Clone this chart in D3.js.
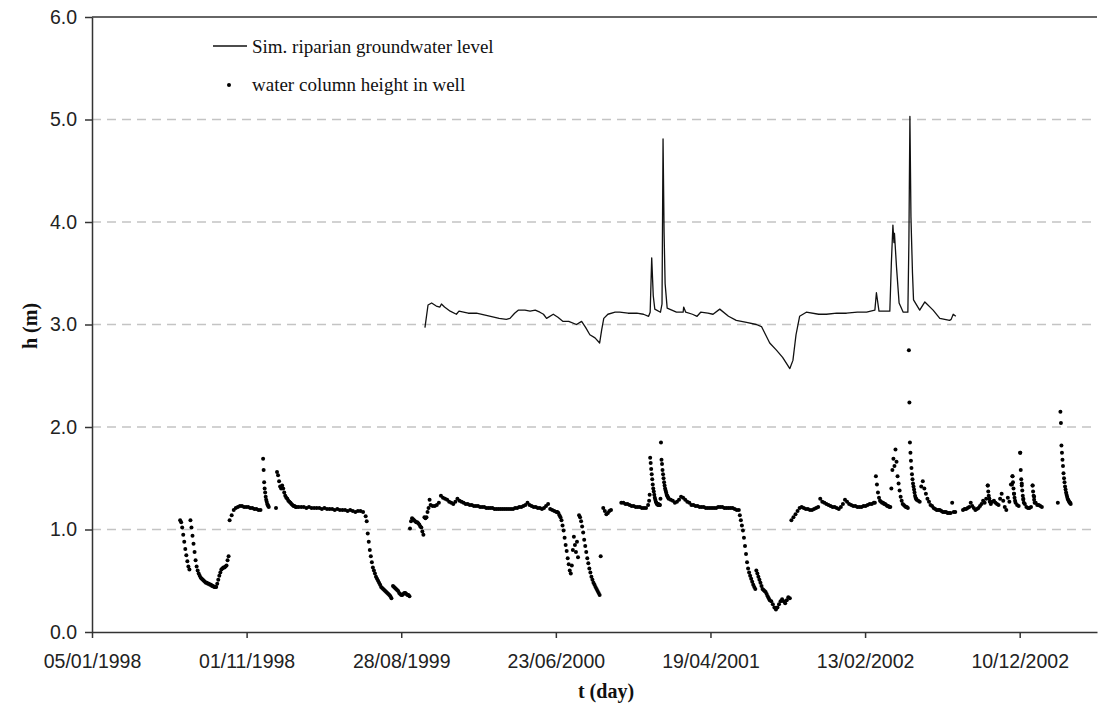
<!DOCTYPE html>
<html><head><meta charset="utf-8">
<script src="https://cdn.jsdelivr.net/npm/d3@7"></script>
<style>body{margin:0;background:#fff}</style>
</head><body>
<svg id="c" width="1104" height="705"></svg>
<script>
// x values are days counted from 05/01/1998
const startDate = Date.UTC(1998, 0, 5);
const xTickDays = [0, 300, 600, 900, 1200, 1500, 1800];
const yTickValues = [0, 1, 2, 3, 4, 5, 6];
const legendLabels = ["Sim. riparian groundwater level", "water column height in well"];
const axisTitles = ["t (day)", "h (m)"];

// simulated riparian groundwater level: [day, h]
const simLevel = [[646,2.97],[652,3.19],[659,3.21],[668,3.18],[675,3.17],[678,3.20],[684,3.17],[695,3.13],[707,3.10],[712,3.13],[730,3.11],[746,3.11],[765,3.09],[790,3.06],[804,3.05],[811,3.06],[820,3.11],[827,3.14],[840,3.14],[850,3.13],[860,3.14],[869,3.12],[876,3.10],[882,3.06],[895,3.10],[904,3.07],[914,3.03],[925,3.03],[940,3.00],[950,3.03],[958,2.97],[966,2.90],[976,2.87],[985,2.82],[989,2.95],[993,3.06],[1001,3.10],[1015,3.12],[1024,3.12],[1040,3.11],[1057,3.11],[1070,3.10],[1080,3.08],[1083,3.12],[1086,3.65],[1089,3.28],[1092,3.15],[1103,3.12],[1106,3.20],[1108,4.81],[1110,3.90],[1112,3.40],[1116,3.16],[1134,3.12],[1147,3.12],[1148,3.17],[1152,3.12],[1165,3.10],[1174,3.08],[1181,3.12],[1195,3.11],[1205,3.10],[1218,3.15],[1235,3.08],[1250,3.04],[1270,3.02],[1289,3.00],[1299,2.98],[1315,2.82],[1328,2.75],[1340,2.68],[1354,2.57],[1360,2.65],[1366,2.90],[1373,3.08],[1386,3.12],[1410,3.10],[1425,3.10],[1445,3.11],[1464,3.11],[1485,3.12],[1503,3.12],[1519,3.14],[1522,3.31],[1527,3.13],[1548,3.13],[1551,3.60],[1554,3.97],[1556,3.80],[1557,3.89],[1561,3.56],[1566,3.21],[1574,3.12],[1583,3.12],[1585,3.80],[1587,5.03],[1589,4.05],[1592,3.50],[1594,3.24],[1606,3.14],[1616,3.22],[1632,3.14],[1645,3.06],[1664,3.04],[1667,3.05],[1671,3.10],[1676,3.08]];

// water column height in well, measured runs: [first day, days between readings, readings]
const wellRuns = [
 [171,2,[1.09,1.07,1.02,0.95,0.88,0.81,0.75,0.69,0.64,0.61]],
 [191,2,[1.09,1.02,0.94,0.86,0.78,0.70,0.64,0.60,0.57,0.55,0.53,0.52,0.51,0.50,0.49,0.48,0.48,0.47,0.47,0.46,0.46,0.45,0.45,0.44,0.44,0.44,0.47,0.51,0.55,0.58,0.61,0.62,0.63,0.63,0.64,0.65,0.70,0.74]],
 [267,4,[1.09,1.14,1.19,1.21,1.22,1.23,1.23,1.22,1.22,1.22,1.21,1.21,1.20,1.20,1.19,1.19]],
 [332,1,[1.69,1.58,1.46,1.40,1.36,1.32,1.29,1.27,1.25,1.24,1.23,1.22]],
 [357,1,[1.21]],
 [359,2,[1.56,1.53,1.47,1.42,1.40,1.43,1.40,1.36,1.33,1.31,1.30,1.28,1.27,1.26,1.25,1.24,1.23,1.23,1.22,1.22]],
 [401,5,[1.22,1.22,1.22,1.21,1.22,1.21,1.21,1.21,1.21,1.20,1.21,1.20,1.20,1.20,1.19,1.20,1.19,1.19,1.19,1.18,1.19,1.18,1.17,1.18,1.18,1.17,1.13]],
 [533,2,[1.08,0.96,0.88,0.80,0.74,0.68,0.63,0.60,0.57,0.54,0.52,0.50,0.48,0.46,0.44,0.43,0.42,0.41,0.40,0.39,0.38,0.37,0.36,0.35,0.33]],
 [584,2,[0.45,0.44,0.43,0.42,0.41,0.40,0.38,0.37,0.36,0.36,0.37,0.38,0.38,0.37,0.36,0.36,0.35]],
 [617,2,[1.01,1.08,1.11,1.10,1.09,1.08,1.07,1.07,1.06,1.05,1.03,1.02,0.98,0.95,1.12,1.11,1.12,1.17,1.21,1.29,1.24]],
 [661,4,[1.23,1.23,1.24,1.26,1.33,1.31,1.30,1.29,1.27,1.26,1.25,1.27,1.30,1.28,1.27,1.26,1.25,1.25,1.24,1.24,1.23,1.23,1.23,1.22,1.22,1.22,1.21,1.21,1.21,1.21,1.20,1.20,1.20,1.20,1.20,1.20,1.20,1.20,1.20,1.20,1.21,1.21,1.22,1.22,1.23,1.24,1.26,1.24,1.23,1.22,1.22,1.21,1.21,1.20,1.21,1.23,1.25,1.20,1.19,1.18,1.17]],
 [903,2,[1.17,1.16,1.14,1.12,1.09,1.04,0.99,0.92,0.85,0.79,0.72,0.66,0.60,0.57,0.65,0.80,0.93,0.85,0.78,0.88,0.73,1.14,1.12,1.08,1.03,0.97,0.90,0.84,0.78,0.72,0.67,0.62,0.58,0.54,0.51,0.48,0.46,0.44,0.42,0.40,0.38,0.36]],
 [987,1,[0.74]],
 [992,3,[1.21,1.18,1.15,1.16,1.18,1.19]],
 [1027,4,[1.26,1.26,1.25,1.25,1.24,1.23,1.23,1.22,1.22,1.22,1.21,1.21,1.21,1.24]],
 [1081,1,[1.28,1.34,1.70,1.65,1.59,1.54,1.49,1.44,1.40,1.37,1.34,1.31,1.29,1.27,1.26,1.25,1.25,1.24,1.25,1.24,1.24,1.24,1.30,1.85,1.68,1.64,1.58,1.54,1.50,1.46,1.43,1.40,1.38,1.36,1.34,1.33,1.32,1.31,1.30]],
 [1123,4,[1.29,1.28,1.26,1.27,1.29,1.32,1.31,1.29,1.27,1.26,1.24,1.24,1.23,1.23,1.22,1.22,1.22,1.21,1.21,1.21,1.21,1.21,1.21,1.22,1.22,1.22,1.21,1.21,1.21,1.21,1.21,1.20,1.19,1.19]],
 [1257,2,[1.14,1.09,1.04,0.99,0.92,0.84,0.76,0.68,0.62,0.58,0.55,0.52,0.49,0.46,0.44,0.42,0.60,0.57,0.54,0.51,0.48,0.45,0.42,0.41,0.40,0.39,0.37,0.35,0.33,0.31]],
 [1318,3,[0.30,0.27,0.24,0.22,0.24,0.27,0.30,0.32,0.30,0.28,0.31,0.34,0.33]],
 [1357,4,[1.09,1.12,1.15,1.18,1.21,1.22,1.21,1.20,1.20,1.19,1.19,1.20,1.21,1.22,1.30,1.27,1.26,1.25,1.24,1.23,1.22,1.22,1.21,1.20,1.22,1.25,1.29,1.27,1.25,1.24,1.23,1.23,1.22,1.22,1.22,1.23,1.23,1.24,1.25,1.25,1.26]],
 [1519,2,[1.26,1.52,1.44,1.36,1.31,1.28,1.27,1.26,1.26,1.25,1.25,1.24,1.23,1.23,1.22,1.22,1.40,1.58,1.69,1.62,1.78,1.66,1.52,1.45,1.38,1.32,1.28,1.25,1.24,1.23,1.22,1.22,1.21]],
 [1585,1,[2.75,2.24,1.85,1.75,1.67,1.60,1.54,1.49,1.45,1.42,1.39,1.36,1.33,1.31,1.30,1.29]],
 [1603,3,[1.28,1.27,1.42,1.47,1.40,1.35,1.30,1.27,1.24,1.23,1.21,1.20,1.19,1.19,1.19,1.18,1.17,1.17,1.17,1.16,1.16,1.16,1.26,1.17,1.17]],
 [1690,3,[1.19,1.20,1.20,1.21,1.22,1.26,1.23,1.21,1.19,1.20,1.21,1.23,1.25,1.28,1.26,1.30,1.43,1.30,1.25,1.27,1.28,1.26,1.25,1.24,1.30,1.35,1.28,1.22,1.19,1.31,1.27,1.44,1.52,1.35,1.26,1.24,1.23,1.75,1.45,1.30,1.25,1.22,1.21,1.21,1.22,1.43,1.32,1.26,1.24,1.24,1.23,1.22]],
 [1738,1,[1.43,1.37,1.33,1.30,1.27]],
 [1785,1,[1.44,1.52,1.46,1.40,1.35,1.31,1.28]],
 [1801,1,[1.75,1.58,1.49,1.43,1.38,1.33,1.29,1.26]],
 [1825,1,[1.43,1.37,1.33,1.29,1.26]],
 [1874,1,[1.26]],
 [1879,1,[2.15,2.04,1.82,1.75,1.68,1.62,1.55,1.50,1.46,1.42,1.39,1.36,1.34,1.32,1.30,1.29,1.28,1.27,1.26,1.26,1.25]]
];

const wellPoints = [];
wellRuns.forEach(([d0, step, vals]) => vals.forEach((h, i) => wellPoints.push([d0 + i * step, h])));

const svg = d3.select("#c");
const x = d3.scaleLinear().domain([0, 1950]).range([92, 1097]);
const y = d3.scaleLinear().domain([0, 6]).range([632, 17]);
const fmt = d3.utcFormat("%d/%m/%Y");
const dayLabel = d => fmt(new Date(startDate + d * 864e5));

// gridlines
svg.append("g").selectAll("line").data(yTickValues.filter(v => v > 0 && v < 6)).join("line")
  .attr("x1", x.range()[0]).attr("x2", x.range()[1])
  .attr("y1", d => y(d)).attr("y2", d => y(d))
  .attr("stroke", "#c4c4c4").attr("stroke-width", 1.4).attr("stroke-dasharray", "9,6");
// top border
svg.append("line").attr("x1", x.range()[0]).attr("x2", x.range()[1])
  .attr("y1", y(6)).attr("y2", y(6)).attr("stroke", "#333").attr("stroke-width", 1.5);

// axes
const xAxis = svg.append("g").attr("transform", `translate(0,${y(0)})`)
  .call(d3.axisBottom(x).tickValues(xTickDays).tickFormat(dayLabel).tickSize(6).tickSizeOuter(0).tickPadding(16));
const yAxis = svg.append("g").attr("transform", `translate(${x(0)},0)`)
  .call(d3.axisLeft(y).tickValues(yTickValues).tickFormat(d3.format(".1f")).tickSize(7).tickSizeOuter(0).tickPadding(8));
[xAxis, yAxis].forEach(g => {
  g.selectAll("path,line").attr("stroke", "#333").attr("stroke-width", 1.5);
  g.selectAll("text").attr("font-family", "'Liberation Sans', Arial, sans-serif").attr("font-size", 19.5).attr("fill", "#222");
});

// simulated line
svg.append("path").datum(simLevel)
  .attr("d", d3.line().x(d => x(d[0])).y(d => y(d[1])))
  .attr("fill", "none").attr("stroke", "#111").attr("stroke-width", 1.3).attr("stroke-linejoin", "round");

// well dots
svg.append("g").selectAll("circle").data(wellPoints).join("circle")
  .attr("cx", d => x(d[0])).attr("cy", d => y(d[1])).attr("r", 2.0).attr("fill", "#000");

// legend
const serif = "'Liberation Serif', 'Times New Roman', serif";
svg.append("line").attr("x1", 213).attr("x2", 247).attr("y1", 46).attr("y2", 46).attr("stroke", "#111").attr("stroke-width", 1.3);
svg.append("circle").attr("cx", 229).attr("cy", 85).attr("r", 2.0).attr("fill", "#000");
svg.append("text").attr("x", 252).attr("y", 52.5).text(legendLabels[0])
  .attr("font-family", serif).attr("font-size", 19).attr("fill", "#111");
svg.append("text").attr("x", 252).attr("y", 90.5).text(legendLabels[1])
  .attr("font-family", serif).attr("font-size", 19).attr("fill", "#111");

// axis titles
svg.append("text").attr("x", 606).attr("y", 698).attr("text-anchor", "middle").text(axisTitles[0])
  .attr("font-family", serif).attr("font-weight", "bold").attr("font-size", 20).attr("fill", "#111");
svg.append("text").attr("transform", "translate(37,326) rotate(-90)").attr("text-anchor", "middle").text(axisTitles[1])
  .attr("font-family", serif).attr("font-weight", "bold").attr("font-size", 20).attr("fill", "#111");
</script>
</body></html>
